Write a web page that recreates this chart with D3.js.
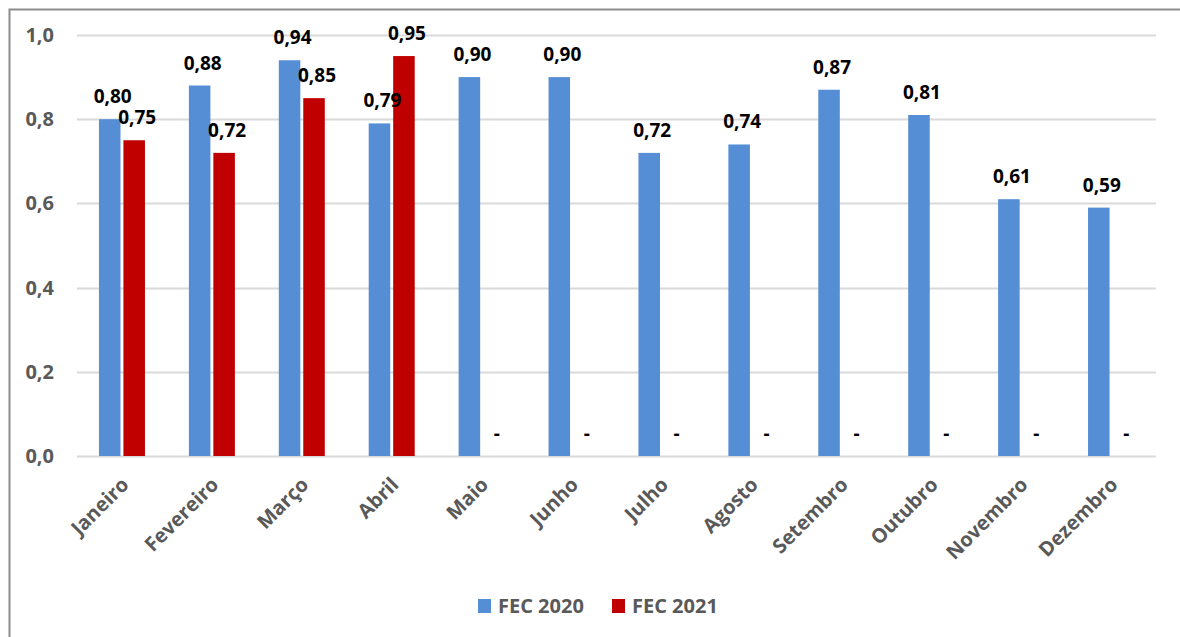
<!DOCTYPE html>
<html>
<head>
<meta charset="utf-8">
<script src="https://cdn.jsdelivr.net/npm/d3@7"></script>
<style>
  body { margin: 0; background: #fff; }
</style>
</head>
<body>
<div class="canvas"></div>
<script>
const months = ["Janeiro", "Fevereiro", "Março", "Abril", "Maio", "Junho", "Julho", "Agosto", "Setembro", "Outubro", "Novembro", "Dezembro"];
const fec2020 = [0.80, 0.88, 0.94, 0.79, 0.90, 0.90, 0.72, 0.74, 0.87, 0.81, 0.61, 0.59];
const fec2021 = [0.75, 0.72, 0.85, 0.95, 0, 0, 0, 0, 0, 0, 0, 0];
const seriesNames = ["FEC 2020", "FEC 2021"];
const yTicks = [0, 0.2, 0.4, 0.6, 0.8, 1.0];

const width = 1180, height = 637;
const margin = { top: 35, right: 24, bottom: 181, left: 77 };
const color = d3.scaleOrdinal(seriesNames, ["#558ED5", "#C00000"]);
const fmt = d => d3.format(".2f")(d).replace(".", ",");
const font = "'Open Sans', Lato, sans-serif";

const svg = d3.select(".canvas")
  .append("svg")
  .attr("width", width)
  .attr("height", height)
  .style("font-family", font);

// frame
svg.append("rect")
  .attr("x", 9.5).attr("y", 9.5)
  .attr("width", width + 20).attr("height", height + 20)
  .attr("fill", "none")
  .attr("stroke", "#8c8c8c")
  .attr("stroke-width", 2);

const x = d3.scaleBand()
  .domain(months)
  .range([margin.left, width - margin.right]);

const xs = d3.scaleBand()
  .domain(seriesNames)
  .range([0, 46])
  .paddingInner(0.12);

const y = d3.scaleLinear()
  .domain([0, 1])
  .range([height - margin.bottom, margin.top]);

// grid
svg.append("g")
  .selectAll("line")
  .data(yTicks)
  .join("line")
  .attr("x1", margin.left)
  .attr("x2", width - margin.right)
  .attr("y1", d => Math.round(y(d)) + 0.5)
  .attr("y2", d => Math.round(y(d)) + 0.5)
  .attr("stroke", "#d9d9d9")
  .attr("stroke-width", 2);

// y labels
svg.append("g")
  .selectAll("text")
  .data(yTicks)
  .join("text")
  .attr("x", 54)
  .attr("y", d => y(d))
  .attr("dy", "0.35em")
  .attr("text-anchor", "end")
  .attr("font-size", 20)
  .attr("font-weight", "bold")
  .attr("fill", "#595959")
  .text(d => d3.format(".1f")(d).replace(".", ","));

const rows = months.map((m, i) => ({ month: m, values: [
  { key: seriesNames[0], value: fec2020[i] },
  { key: seriesNames[1], value: fec2021[i] }
] }));

const group = svg.append("g")
  .selectAll("g")
  .data(rows)
  .join("g")
  .attr("transform", d => `translate(${x(d.month) + x.bandwidth() / 2 - 23},0)`);

group.selectAll("rect")
  .data(d => d.values)
  .join("rect")
  .attr("x", d => xs(d.key))
  .attr("y", d => y(d.value))
  .attr("width", xs.bandwidth())
  .attr("height", d => y(0) - y(d.value))
  .attr("fill", d => color(d.key));

group.selectAll("text")
  .data(d => d.values)
  .join("text")
  .attr("x", d => xs(d.key) + xs.bandwidth() / 2 + 3)
  .attr("y", d => d.value > 0 ? y(d.value) - 16 : y(0) - 16)
  .attr("text-anchor", "middle")
  .attr("font-size", 19)
  .attr("font-weight", "bold")
  .attr("fill", "#000")
  .text(d => d.value > 0 ? fmt(d.value) : "-");

// x labels
svg.append("g")
  .selectAll("text")
  .data(months)
  .join("text")
  .attr("transform", d => `translate(${x(d) + x.bandwidth() / 2 + 8},${y(0) + 30}) rotate(-45)`)
  .attr("text-anchor", "end")
  .attr("font-size", 20)
  .attr("font-weight", "bold")
  .attr("fill", "#595959")
  .text(d => d);

// legend
const legend = svg.append("g")
  .attr("transform", "translate(478,606)")
  .selectAll("g")
  .data(seriesNames)
  .join("g")
  .attr("transform", (d, i) => `translate(${i * 134},0)`);

legend.append("rect")
  .attr("x", 0).attr("y", -7)
  .attr("width", 13).attr("height", 14)
  .attr("fill", d => color(d));

legend.append("text")
  .attr("x", 20)
  .attr("dy", "0.35em")
  .attr("font-size", 20)
  .attr("font-weight", "bold")
  .attr("fill", "#595959")
  .text(d => d);
</script>
</body>
</html>
